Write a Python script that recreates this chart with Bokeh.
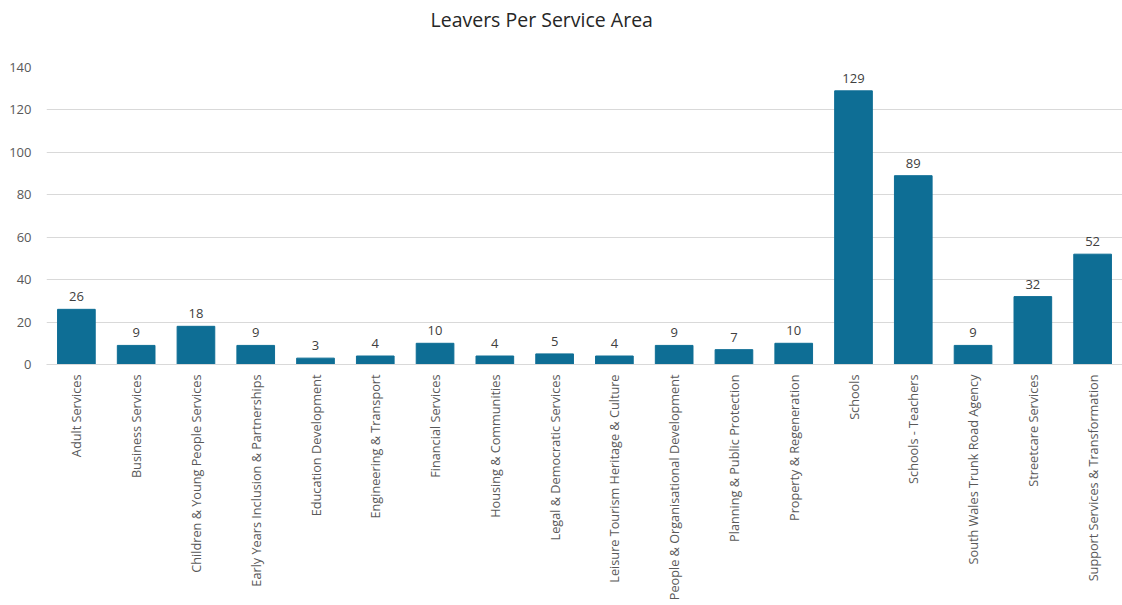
import math
from bokeh.plotting import figure
from bokeh.models import FactorRange, Range1d, ColumnDataSource, Title
from bokeh.embed import file_html
from bokeh.resources import INLINE
from bokeh.core.properties import value

categories = [
    "Adult Services",
    "Business Services",
    "Children & Young People Services",
    "Early Years Inclusion & Partnerships",
    "Education Development",
    "Engineering & Transport",
    "Financial Services",
    "Housing & Communities",
    "Legal & Democratic Services",
    "Leisure Tourism Heritage & Culture",
    "People & Organisational Development",
    "Planning & Public Protection",
    "Property & Regeneration",
    "Schools",
    "Schools - Teachers",
    "South Wales Trunk Road Agency",
    "Streetcare Services",
    "Support Services & Transformation",
]
leavers = [26, 9, 18, 9, 3, 4, 10, 4, 5, 4, 9, 7, 10, 129, 89, 9, 32, 52]
y_ticks = [0, 20, 40, 60, 80, 100, 120, 140]
title_text = "Leavers Per Service Area"

FONT = "Open Sans"
BAR = "#0E6E95"

src = ColumnDataSource(dict(cat=categories, val=leavers, lab=[str(v) for v in leavers]))

p = figure(
    width=1122, height=605,
    x_range=FactorRange(*categories, range_padding=0),
    y_range=Range1d(0, 140),
    output_backend="svg", toolbar_location=None,
    min_border_left=46, min_border_right=0,
    min_border_top=67, min_border_bottom=241,
)
p.outline_line_color = None
p.background_fill_color = "white"
p.border_fill_color = "white"

# spacer panel (nearest the frame), then the real title above it
spacer = Title(text=" ", text_font_size="1px", standoff=32, text_color="white")
p.add_layout(spacer, "above")
main_title = Title(text=title_text, align="left", offset=384, standoff=0,
                   text_font=FONT, text_font_size="19.5px", text_font_style="normal",
                   text_color="#262626")
p.add_layout(main_title, "above")

p.vbar(x="cat", top="val", width=0.63, source=src, fill_color=BAR, line_color=BAR)
p.text(x="cat", y="val", text="lab", source=src, text_align="center",
       text_baseline="bottom", y_offset=-8, text_font=value(FONT),
       text_font_size="13px", text_color="#404040")

p.xgrid.grid_line_color = None
p.ygrid.grid_line_color = "#D9D9D9"
p.ygrid.grid_line_width = 1

p.yaxis.ticker = y_ticks
p.yaxis.axis_line_color = None
p.yaxis.major_tick_line_color = None
p.yaxis.minor_tick_line_color = None
p.yaxis.major_label_standoff = 9
p.yaxis.major_label_text_font = FONT
p.yaxis.major_label_text_font_size = "13px"
p.yaxis.major_label_text_color = "#595959"

p.xaxis.axis_line_color = "#D9D9D9"
p.xaxis.major_tick_line_color = None
p.xaxis.minor_tick_line_color = None
p.xaxis.major_label_orientation = math.pi / 2
p.xaxis.major_label_standoff = 4
p.xaxis.major_label_text_font = FONT
p.xaxis.major_label_text_font_size = "12.7px"
p.xaxis.major_label_text_color = "#595959"

open("out.html", "w").write(file_html(p, INLINE))
